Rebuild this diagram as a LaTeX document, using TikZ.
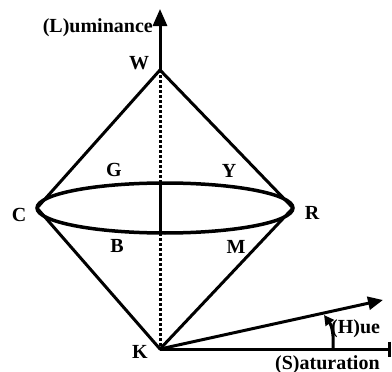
\documentclass[tikz,border=0pt]{standalone}
\usepackage{fontspec}
\setmainfont{Liberation Serif}
\usetikzlibrary{arrows.meta}
\begin{document}
\begin{tikzpicture}[x=1pt,y=-1pt,
  lbl/.style={font=\fontsize{20}{22}\selectfont\bfseries, inner sep=0pt, anchor=base},
  edge/.style={line width=3pt},
  dashedaxis/.style={line width=3pt, dash pattern=on 3pt off 2pt}]
\useasboundingbox (0,0) rectangle (392,372);
% key points
\coordinate (W) at (160,70);
\coordinate (C) at (37,208);
\coordinate (R) at (293,208);
\coordinate (K) at (160,349);
\coordinate (Ltip) at (160,9);
\coordinate (Htip) at (383,300);
\coordinate (Send) at (391,349);
\coordinate (Etop) at (160,183);
\coordinate (Ebot) at (160,233);
\coordinate (Harcs) at (333,349);
\coordinate (Harce) at (324,315);
% cone edges
\draw[edge, line join=round] (C) -- (W) -- (R);
\draw[edge, line join=round] (C) -- (K) -- (R);
% equator ellipse
\draw[line width=3.5pt] (165,208) ellipse [x radius=128, y radius=25];
% vertical axis inside
\draw[dashedaxis] (W) -- (Etop);
\draw[edge] (Etop) -- (Ebot);
\draw[dashedaxis] (Ebot) -- (K);
% luminance axis
\draw[edge, -{Triangle[length=17pt,width=14pt]}] (W) -- (Ltip);
% hue axis
\draw[edge, -{Triangle[length=15pt,width=13pt]}] (K) -- (Htip);
% saturation axis
\draw[edge, -{Bar[width=15pt,line width=3.5pt]}] (K) -- (Send);
% hue angle arc
\draw[edge, -{Triangle[length=10pt,width=10pt]}] (Harcs) .. controls (334,336) and (332,326) .. (Harce);
% labels
\node[lbl] (lW) at (139,70) {W};
\node[lbl] (lG) at (114,176) {G};
\node[lbl] (lB) at (117,252) {B};
\node[lbl] (lC) at (19,222) {C};
\node[lbl] (lY) at (229,177) {Y};
\node[lbl] (lR) at (312,219) {R};
\node[lbl] (lM) at (236,253) {M};
\node[lbl] (lK) at (140,358) {K};
\node[lbl, anchor=base east] (lL) at (153,33) {(L)uminance};
\node[lbl, anchor=base west] (lH) at (331,334) {(H)ue};
\node[lbl, anchor=base west] (lS) at (275,369) {(S)aturation};
\end{tikzpicture}
\end{document}
